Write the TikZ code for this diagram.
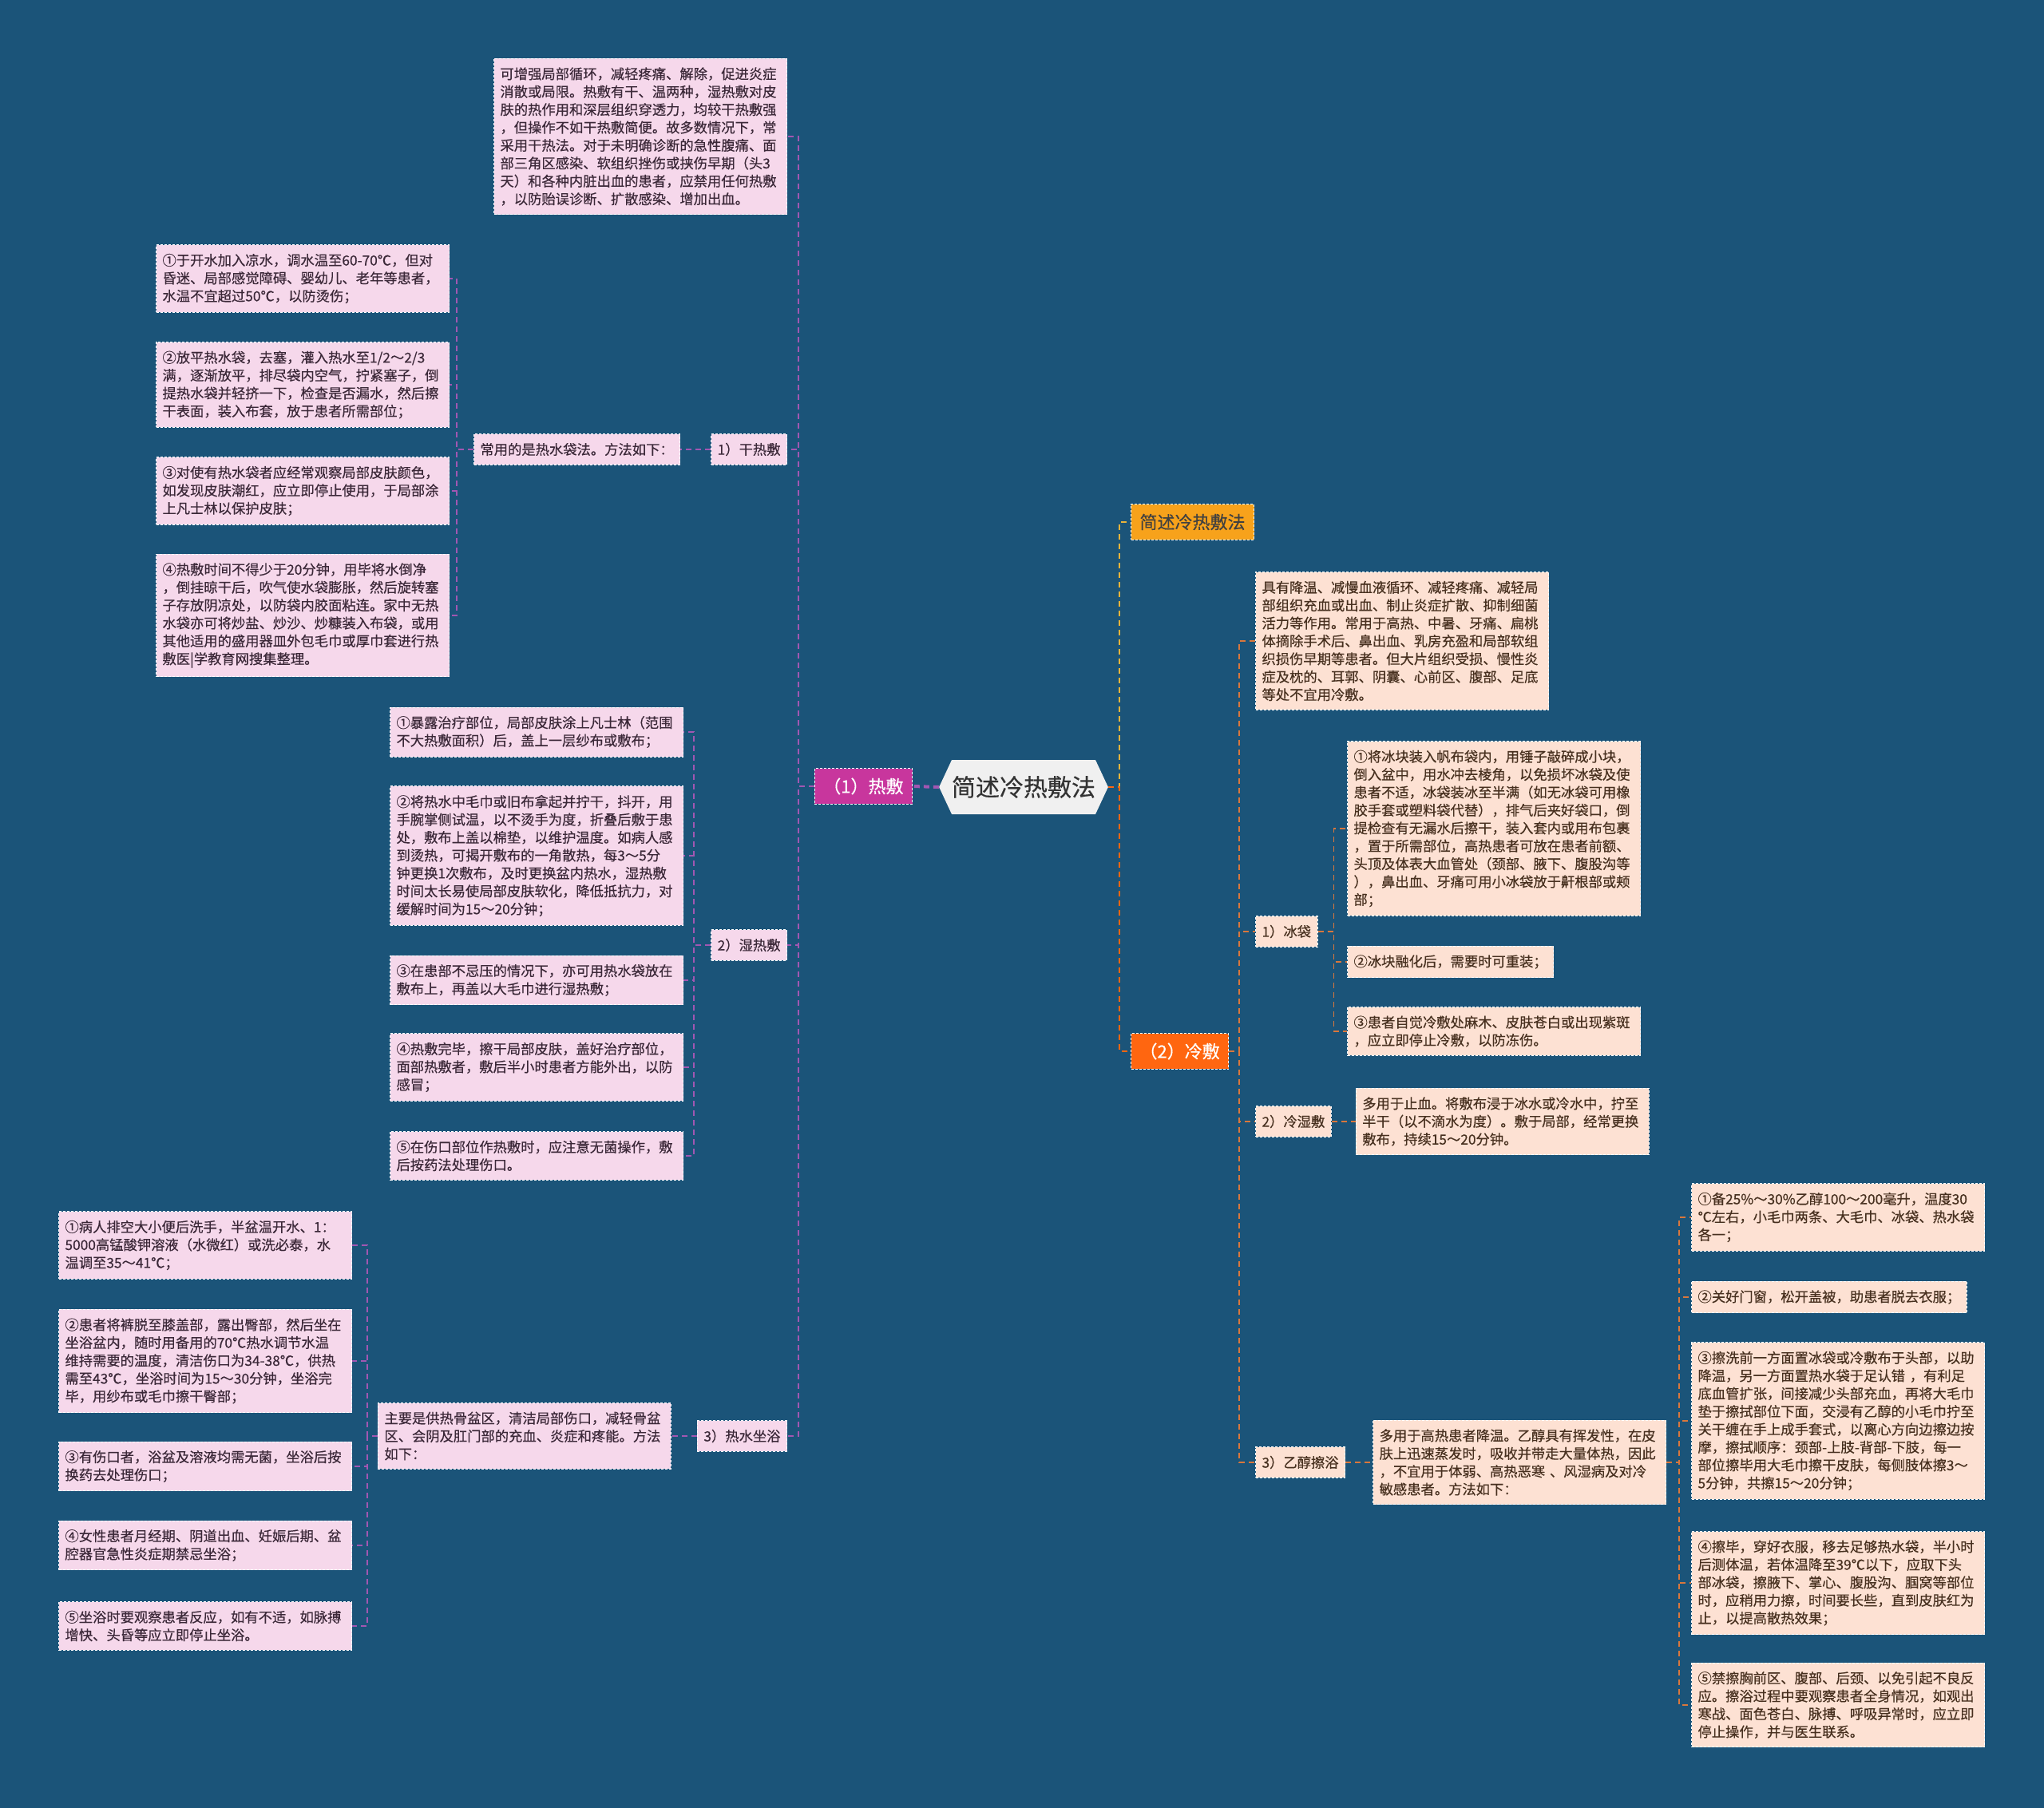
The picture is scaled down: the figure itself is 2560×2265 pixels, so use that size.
\documentclass[tikz,border=0pt]{standalone}
\usepackage{fontspec}
\setmainfont{Noto Sans CJK SC}[FakeBold=0.4]
\usepackage{xcolor}
\usepackage{tikz}
\usetikzlibrary{positioning, shapes.symbols}

\definecolor{bgblue}{HTML}{1B5479}
\definecolor{pinkfill}{HTML}{F6D8EB}
\definecolor{pinktext}{HTML}{3B2838}
\definecolor{peachfill}{HTML}{FDE1D3}
\definecolor{peachtext}{HTML}{47301F}
\definecolor{hotmagenta}{HTML}{C8369D}
\definecolor{titlegold}{HTML}{F7A21B}
\definecolor{coldorange}{HTML}{FF6610}
\definecolor{hubgray}{HTML}{F0F0F0}
\definecolor{purpleline}{HTML}{A257B2}
\definecolor{orangeline}{HTML}{D9773C}
\definecolor{goldline}{HTML}{EBB43A}

\newcommand{\leaffont}{\fontsize{17.3}{22.4}\selectfont}
\newcommand{\tagfont}{\fontsize{22}{26}\selectfont}

\begin{document}
\begin{tikzpicture}[
    x=1pt, y=-1pt,
    leaf/.style={rectangle, draw=white, dash pattern=on 3pt off 2pt, line width=1pt, font=\leaffont, inner xsep=8pt, inner ysep=11pt, align=left},
    pinkleaf/.style={leaf, fill=pinkfill, text=pinktext, anchor=east},
    pinkbox/.style={pinkleaf, text width=351pt},
    peachleaf/.style={leaf, fill=peachfill, text=peachtext, anchor=west},
    peachbox/.style={peachleaf, text width=351pt},
    branch/.style={rectangle, draw=white, dash pattern=on 3pt off 2pt, line width=1pt, font=\tagfont, inner xsep=11pt, inner ysep=12pt},
    hub/.style={signal, signal to=west and east, signal pointer angle=130, fill=hubgray, text=black!80, font=\fontsize{30}{34}\selectfont, minimum height=68pt, inner xsep=0pt},
    hotlink/.style={draw=purpleline, line width=1.6pt, dash pattern=on 7pt off 5pt},
    coldlink/.style={draw=orangeline, line width=1.6pt, dash pattern=on 7pt off 5pt},
    titlelink/.style={draw=goldline, line width=1.6pt, dash pattern=on 7pt off 5pt}
]
\fill[bgblue] (0,0) rectangle (2560,2265);
\useasboundingbox (0,0) rectangle (2560,2265);

% centre and main branches
\node[hub] (root) at (1282,986) {简述冷热敷法};
\node[branch, fill=hotmagenta, text=white, anchor=east] (hot) at (1143,985) {（1）热敷};
\node[branch, fill=titlegold, text=black!75, anchor=west] (title) at (1416,654) {简述冷热敷法};
\node[branch, fill=coldorange, text=white, anchor=west] (cold) at (1416,1317) {（2）冷敷};

% hot side
\node[pinkbox] (hotnote) at (986,171) {可增强局部循环，减轻疼痛、解除，促进炎症\\消散或局限。热敷有干、温两种，湿热敷对皮\\肤的热作用和深层组织穿透力，均较干热敷强\\，但操作不如干热敷简便。故多数情况下，常\\采用干热法。对于未明确诊断的急性腹痛、面\\部三角区感染、软组织挫伤或挟伤早期（头3\\天）和各种内脏出血的患者，应禁用任何热敷\\，以防贻误诊断、扩散感染、增加出血。};
\node[pinkleaf] (hotdry) at (986,563) {1）干热敷};
\node[pinkleaf] (hotwet) at (986,1184) {2）湿热敷};
\node[pinkleaf] (hotbath) at (986,1799) {3）热水坐浴};

\node[pinkleaf, left=38pt of hotdry] (bagintro) {常用的是热水袋法。方法如下：};
\node[pinkbox] (bag1) at (563,349) {①于开水加入凉水，调水温至60-70℃，但对\\昏迷、局部感觉障碍、婴幼儿、老年等患者，\\水温不宜超过50℃，以防烫伤；};
\node[pinkbox] (bag2) at (563,482) {②放平热水袋，去塞，灌入热水至1/2～2/3\\满，逐渐放平，排尽袋内空气，拧紧塞子，倒\\提热水袋并轻挤一下，检查是否漏水，然后擦\\干表面，装入布套，放于患者所需部位；};
\node[pinkbox] (bag3) at (563,615) {③对使有热水袋者应经常观察局部皮肤颜色，\\如发现皮肤潮红，应立即停止使用，于局部涂\\上凡士林以保护皮肤；};
\node[pinkbox] (bag4) at (563,771) {④热敷时间不得少于20分钟，用毕将水倒净\\，倒挂晾干后，吹气使水袋膨胀，然后旋转塞\\子存放阴凉处，以防袋内胶面粘连。家中无热\\水袋亦可将炒盐、炒沙、炒糠装入布袋，或用\\其他适用的盛用器皿外包毛巾或厚巾套进行热\\敷医|学教育网搜集整理。};

\node[pinkbox] (wet1) at (856,917) {①暴露治疗部位，局部皮肤涂上凡士林（范围\\不大热敷面积）后，盖上一层纱布或敷布；};
\node[pinkbox] (wet2) at (856,1072) {②将热水中毛巾或旧布拿起并拧干，抖开，用\\手腕掌侧试温，以不烫手为度，折叠后敷于患\\处，敷布上盖以棉垫，以维护温度。如病人感\\到烫热，可揭开敷布的一角散热，每3～5分\\钟更换1次敷布，及时更换盆内热水，湿热敷\\时间太长易使局部皮肤软化，降低抵抗力，对\\缓解时间为15～20分钟；};
\node[pinkbox] (wet3) at (856,1228) {③在患部不忌压的情况下，亦可用热水袋放在\\敷布上，再盖以大毛巾进行湿热敷；};
\node[pinkbox] (wet4) at (856,1337) {④热敷完毕，擦干局部皮肤，盖好治疗部位，\\面部热敷者，敷后半小时患者方能外出，以防\\感冒；};
\node[pinkbox] (wet5) at (856,1448) {⑤在伤口部位作热敷时，应注意无菌操作，敷\\后按药法处理伤口。};

\node[pinkbox, left=32pt of hotbath] (bathintro) {主要是供热骨盆区，清洁局部伤口，减轻骨盆\\区、会阴及肛门部的充血、炎症和疼能。方法\\如下：};
\node[pinkbox] (bath1) at (441,1560) {①病人排空大小便后洗手，半盆温开水、1：\\5000高锰酸钾溶液（水微红）或洗必泰，水\\温调至35～41℃；};
\node[pinkbox] (bath2) at (441,1705) {②患者将裤脱至膝盖部，露出臀部，然后坐在\\坐浴盆内，随时用备用的70℃热水调节水温\\维持需要的温度，清洁伤口为34-38℃，供热\\需至43℃，坐浴时间为15～30分钟，坐浴完\\毕，用纱布或毛巾擦干臀部；};
\node[pinkbox] (bath3) at (441,1837) {③有伤口者，浴盆及溶液均需无菌，坐浴后按\\换药去处理伤口；};
\node[pinkbox] (bath4) at (441,1936) {④女性患者月经期、阴道出血、妊娠后期、盆\\腔器官急性炎症期禁忌坐浴；};
\node[pinkbox] (bath5) at (441,2037) {⑤坐浴时要观察患者反应，如有不适，如脉搏\\增快、头昏等应立即停止坐浴。};

% cold side
\node[peachbox] (coldnote) at (1572,803) {具有降温、减慢血液循环、减轻疼痛、减轻局\\部组织充血或出血、制止炎症扩散、抑制细菌\\活力等作用。常用于高热、中暑、牙痛、扁桃\\体摘除手术后、鼻出血、乳房充盈和局部软组\\织损伤早期等患者。但大片组织受损、慢性炎\\症及枕的、耳郭、阴囊、心前区、腹部、足底\\等处不宜用冷敷。};
\node[peachleaf] (icebag) at (1572,1167) {1）冰袋};
\node[peachleaf] (coldwet) at (1572,1405) {2）冷湿敷};
\node[peachleaf] (alcohol) at (1572,1832) {3）乙醇擦浴};

\node[peachbox] (ice1) at (1687,1038) {①将冰块装入帆布袋内，用锤子敲碎成小块，\\倒入盆中，用水冲去棱角，以免损坏冰袋及使\\患者不适，冰袋装冰至半满（如无冰袋可用橡\\胶手套或塑料袋代替），排气后夹好袋口，倒\\提检查有无漏水后擦干，装入套内或用布包裹\\，置于所需部位，高热患者可放在患者前额、\\头顶及体表大血管处（颈部、腋下、腹股沟等\\），鼻出血、牙痛可用小冰袋放于鼾根部或颊\\部；};
\node[peachleaf] (ice2) at (1687,1205) {②冰块融化后，需要时可重装；};
\node[peachbox] (ice3) at (1687,1292) {③患者自觉冷敷处麻木、皮肤苍白或出现紫斑\\，应立即停止冷敷，以防冻伤。};

\node[peachbox, right=30pt of coldwet] (wetnote) {多用于止血。将敷布浸于冰水或冷水中，拧至\\半干（以不滴水为度）。敷于局部，经常更换\\敷布，持续15～20分钟。};
\node[peachbox, right=34pt of alcohol] (alcnote) {多用于高热患者降温。乙醇具有挥发性，在皮\\肤上迅速蒸发时，吸收并带走大量体热，因此\\，不宜用于体弱、高热恶寒 、风湿病及对冷\\敏感患者。方法如下：};

\node[peachbox] (alc1) at (2118,1525) {①备25\%～30\%乙醇100～200毫升，温度30\\℃左右，小毛巾两条、大毛巾、冰袋、热水袋\\各一；};
\node[peachleaf] (alc2) at (2118,1625) {②关好门窗，松开盖被，助患者脱去衣服；};
\node[peachbox] (alc3) at (2118,1780) {③擦洗前一方面置冰袋或冷敷布于头部，以助\\降温，另一方面置热水袋于足认错 ，有利足\\底血管扩张，间接减少头部充血，再将大毛巾\\垫于擦拭部位下面，交浸有乙醇的小毛巾拧至\\关干缠在手上成手套式，以离心方向边擦边按\\摩，擦拭顺序：颈部-上肢-背部-下肢，每一\\部位擦毕用大毛巾擦干皮肤，每侧肢体擦3～\\5分钟，共擦15～20分钟；};
\node[peachbox] (alc4) at (2118,1983) {④擦毕，穿好衣服，移去足够热水袋，半小时\\后测体温，若体温降至39℃以下，应取下头\\部冰袋，擦腋下、掌心、腹股沟、腘窝等部位\\时，应稍用力擦，时间要长些，直到皮肤红为\\止，以提高散热效果；};
\node[peachbox] (alc5) at (2118,2136) {⑤禁擦胸前区、腹部、后颈、以免引起不良反\\应。擦浴过程中要观察患者全身情况，如观出\\寒战、面色苍白、脉搏、呼吸异常时，应立即\\停止操作，并与医生联系。};

% connectors
\draw[hotlink, line width=4pt] (root.west) -- (hot.east);
\foreach \kid in {hotnote, hotdry, hotwet, hotbath}
  \draw[hotlink] (hot.west) -- ++(-20,0) |- (\kid.east);
\draw[hotlink] (hotdry.west) -- (bagintro.east);
\foreach \kid in {bag1, bag2, bag3, bag4}
  \draw[hotlink] (bagintro.west) -- ++(-21,0) |- (\kid.east);
\foreach \kid in {wet1, wet2, wet3, wet4, wet5}
  \draw[hotlink] (hotwet.west) -- ++(-21,0) |- (\kid.east);
\draw[hotlink] (hotbath.west) -- (bathintro.east);
\foreach \kid in {bath1, bath2, bath3, bath4, bath5}
  \draw[hotlink] (bathintro.west) -- ++(-13,0) |- (\kid.east);

\draw[titlelink] (root.east) -- ++(14,0) |- (title.west);
\draw[coldlink, draw=coldorange] (root.east) -- ++(14,0) |- (cold.west);
\foreach \kid in {coldnote, icebag, coldwet, alcohol}
  \draw[coldlink] (cold.east) -- ++(13,0) |- (\kid.west);
\foreach \kid in {ice1, ice2, ice3}
  \draw[coldlink] (icebag.east) -- ++(20,0) |- (\kid.west);
\draw[coldlink] (coldwet.east) -- (wetnote.west);
\draw[coldlink] (alcohol.east) -- (alcnote.west);
\foreach \kid in {alc1, alc2, alc3, alc4, alc5}
  \draw[coldlink] (alcnote.east) -- ++(16,0) |- (\kid.west);

\end{tikzpicture}
\end{document}
